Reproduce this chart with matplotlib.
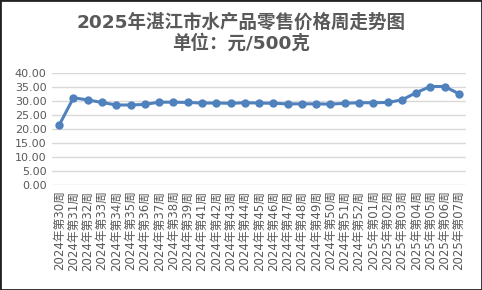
import matplotlib
matplotlib.use("Agg")
import matplotlib.pyplot as plt
from matplotlib.patches import Rectangle

# weeks (note: week 40 of 2024 is absent in the source)
weeks_2024 = ["30", "31", "32", "33", "34", "35", "36", "37", "38", "39",
              "41", "42", "43", "44", "45", "46", "47", "48", "49", "50",
              "51", "52"]
weeks_2025 = ["01", "02", "03", "04", "05", "06", "07"]
labels = ([f"2024年第{w}周" for w in weeks_2024]
          + [f"2025年第{w}周" for w in weeks_2025])

prices = [21.4, 31.2, 30.4, 29.5, 28.6, 28.6, 28.8, 29.6, 29.6, 29.5,
          29.3, 29.3, 29.2, 29.4, 29.3, 29.2, 29.0, 29.0, 29.0, 28.9,
          29.2, 29.4, 29.4, 29.5, 30.4, 33.0, 35.2, 35.2, 32.6]

title = "2025年湛江市水产品零售价格周走势图\n单位：元/500克"

FONTS = ["DejaVu Sans", "Noto Sans CJK SC"]
TEXT = "#595959"
plt.rcParams["font.family"] = FONTS

fig = plt.figure(figsize=(4.82, 2.90), dpi=100)
ax = fig.add_axes([0.108, 0.362, 0.859, 0.386])

x = range(len(prices))
ax.plot(x, prices, color="#4F81BD", lw=2.2, marker="o", markersize=5,
        zorder=3)

ax.set_xlim(-0.5, len(prices) - 0.5)
ax.set_ylim(0, 40)
ax.set_yticks(range(0, 41, 5))
ax.set_yticklabels([f"{v:.2f}" for v in range(0, 41, 5)])
ax.set_xticks(list(x))
ax.set_xticklabels(labels, rotation=90, fontsize=8.5)
ax.tick_params(length=0, labelsize=8, colors=TEXT, pad=4)
ax.tick_params(axis="x", labelsize=8.5)
ax.grid(axis="y", color="#D9D9D9", lw=1)
ax.set_axisbelow(True)
for s in ax.spines.values():
    s.set_visible(False)

fig.text(0.5, 0.886, title, ha="center", va="center", fontsize=13.3,
         fontweight="bold", color=TEXT, linespacing=1.15)

fig.patches.append(Rectangle((0, 0), 1, 1, transform=fig.transFigure,
                             fill=False, edgecolor="#222222", lw=2))

fig.savefig("out.png", dpi=100)
